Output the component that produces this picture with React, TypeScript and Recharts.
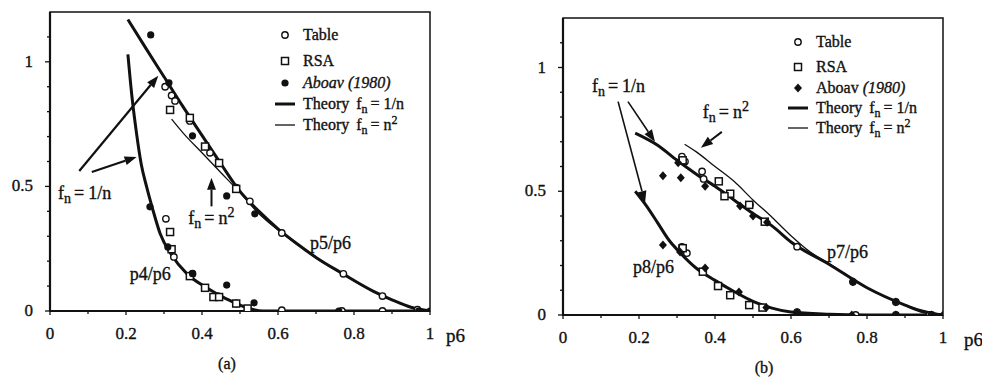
import React from 'react'
import {
  ComposedChart,
  Line,
  Scatter,
  XAxis,
  YAxis,
  ReferenceArea,
  ReferenceLine,
  ReferenceDot,
} from 'recharts'

type Pt = [number, number]

// ---- panel (a): p5/p6 and p4/p6 ----
const p5RecipA: Pt[] = [
  [0.205, 1.17], [0.25, 1.06], [0.3, 0.94], [0.35, 0.82], [0.4, 0.705], [0.45, 0.59],
  [0.5, 0.48], [0.55, 0.4], [0.6, 0.33], [0.65, 0.27], [0.7, 0.215], [0.77, 0.15],
  [0.85, 0.08], [0.9, 0.045], [0.95, 0.015], [1, 0],
]
const p5SquareA: Pt[] = [
  [0.32, 0.77], [0.35, 0.715], [0.4, 0.635], [0.45, 0.555], [0.5, 0.475], [0.55, 0.39],
  [0.6, 0.325], [0.65, 0.268], [0.7, 0.213], [0.77, 0.148], [0.85, 0.079], [0.9, 0.044],
  [0.95, 0.015], [1, 0],
]
const p4RecipA: Pt[] = [
  [0.205, 1.03], [0.215, 0.87], [0.228, 0.71], [0.24, 0.59], [0.254, 0.5], [0.27, 0.41],
  [0.29, 0.31], [0.32, 0.225], [0.36, 0.15], [0.41, 0.095], [0.465, 0.048], [0.52, 0.012],
  [0.56, 0], [1, 0],
]
const tableA: Pt[] = [
  [0.303, 0.9], [0.32, 0.865], [0.329, 0.843], [0.368, 0.763], [0.421, 0.635], [0.49, 0.495],
  [0.526, 0.44], [0.61, 0.313], [0.772, 0.149], [0.875, 0.06], [0.967, 0.005],
  [0.305, 0.37], [0.326, 0.217], [0.375, 0.15], [0.442, 0.06], [0.49, 0.03], [0.61, 0.003],
  [0.768, 0], [0.875, 0],
]
const rsaA: Pt[] = [
  [0.316, 0.807], [0.368, 0.775], [0.408, 0.66], [0.445, 0.594], [0.49, 0.49],
  [0.316, 0.317], [0.32, 0.248], [0.368, 0.14], [0.408, 0.093], [0.43, 0.056], [0.445, 0.056],
  [0.49, 0.03], [0.52, 0.01],
]
const aboavA: Pt[] = [
  [0.265, 1.108], [0.313, 0.916], [0.375, 0.703], [0.465, 0.462], [0.539, 0.39],
  [0.263, 0.418], [0.31, 0.257], [0.375, 0.15], [0.465, 0.104], [0.537, 0.033],
  [0.76, 0], [0.97, 0], [1, 0],
]

// ---- panel (b): p7/p6 and p8/p6 ----
const p7RecipB: Pt[] = [
  [0.19, 0.735], [0.25, 0.685], [0.3, 0.625], [0.35, 0.57], [0.4, 0.52], [0.45, 0.465],
  [0.5, 0.41], [0.55, 0.36], [0.6, 0.295], [0.7, 0.205], [0.8, 0.11], [0.9, 0.04],
  [0.95, 0.012], [1, 0],
]
const p7SquareB: Pt[] = [
  [0.32, 0.69], [0.35, 0.66], [0.4, 0.6], [0.45, 0.54], [0.5, 0.465], [0.55, 0.395],
  [0.6, 0.32], [0.65, 0.255], [0.7, 0.208], [0.8, 0.11], [0.9, 0.04], [1, 0],
]
const p8RecipB: Pt[] = [
  [0.19, 0.5], [0.22, 0.44], [0.25, 0.37], [0.28, 0.3], [0.3, 0.265], [0.35, 0.19],
  [0.4, 0.14], [0.45, 0.095], [0.5, 0.055], [0.55, 0.028], [0.6, 0.012], [0.7, 0.003],
  [0.8, 0], [1, 0],
]
const tableB: Pt[] = [
  [0.313, 0.64], [0.321, 0.62], [0.366, 0.58], [0.37, 0.55], [0.492, 0.445], [0.616, 0.276],
  [0.763, 0.134], [0.876, 0.053], [0.965, 0],
  [0.313, 0.275], [0.326, 0.25], [0.616, 0.012], [0.77, 0], [0.876, 0], [0.97, 0],
]
const rsaB: Pt[] = [
  [0.315, 0.625], [0.41, 0.54], [0.44, 0.49], [0.425, 0.48], [0.49, 0.445], [0.531, 0.377],
  [0.315, 0.27], [0.368, 0.175], [0.408, 0.117], [0.44, 0.08], [0.49, 0.04], [0.525, 0.03],
]
const aboavB: Pt[] = [
  [0.263, 0.563], [0.31, 0.555], [0.303, 0.615], [0.374, 0.52], [0.466, 0.44], [0.5, 0.4],
  [0.537, 0.375], [0.763, 0.134], [0.876, 0.053], [1, 0],
  [0.263, 0.283], [0.308, 0.255], [0.374, 0.19], [0.463, 0.093], [0.535, 0.03], [0.616, 0.01],
  [0.76, 0], [0.876, 0], [0.97, 0],
]

const xTicks = [0, 0.1, 0.2, 0.3, 0.4, 0.5, 0.6, 0.7, 0.8, 0.9, 1]
const xLabels = ['0', '0.2', '0.4', '0.6', '0.8', '1']
const yTicks = [0, 0.1, 0.2, 0.3, 0.4, 0.5, 0.6, 0.7, 0.8, 0.9, 1, 1.1]
const yLabels = ['0', '0.5', '1']

const FONT = '"Liberation Serif", "DejaVu Serif", serif'
const INK = '#111'
// scanned print looks a bit heavy, thicken glyphs slightly
const textStyle = { stroke: INK, strokeWidth: 0.35 }

const rows = (pts: Pt[]) => pts.map(([x, y]) => ({ x, y }))
const fmt = (v: number) => String(Math.round(v * 10) / 10)

const XTick = ({ x, y, payload }: any) => {
  const label = fmt(payload.value)
  const major = xLabels.includes(label)
  return (
    <g>
      <line x1={x} y1={y} x2={x} y2={y + (major ? 4 : 3)} stroke={INK} strokeWidth={1.3} />
      {major && (
        <text x={x} y={y + 28} textAnchor="middle" fontFamily={FONT} fontSize={17} fill={INK} style={textStyle}>
          {label}
        </text>
      )}
    </g>
  )
}

const YTick = ({ x, y, payload }: any) => {
  const label = fmt(payload.value)
  const major = yLabels.includes(label)
  return (
    <g>
      <line x1={x} y1={y} x2={x - (major ? 5 : 3)} y2={y} stroke={INK} strokeWidth={1.3} />
      {major && (
        <text x={x - 17} y={y + 5} textAnchor="end" fontFamily={FONT} fontSize={17} fill={INK} style={textStyle}>
          {label}
        </text>
      )}
    </g>
  )
}

const OpenCircle = ({ cx, cy }: any) => (
  <circle cx={cx} cy={cy} r={3.2} fill="#fff" stroke={INK} strokeWidth={1.4} />
)
const OpenSquare = ({ cx, cy }: any) => (
  <rect x={cx - 3.5} y={cy - 3.5} width={7} height={7} fill="#fff" stroke={INK} strokeWidth={1.5} />
)
const FilledDot = ({ cx, cy }: any) => <circle cx={cx} cy={cy} r={3.6} fill={INK} />
const FilledDiamond = ({ cx, cy }: any) => (
  <path d={`M${cx},${cy - 4.5}L${cx + 4},${cy}L${cx},${cy + 4.5}L${cx - 4},${cy}Z`} fill={INK} />
)

// f_n = 1/n  or  f_n = n^2
const FnLabel = ({ x, y, kind }: { x: number; y: number; kind: 'recip' | 'square' }) => (
  <text x={x} y={y} fontFamily={FONT} fontSize={18} fill={INK} style={textStyle}>
    f<tspan dy={4} fontSize={14}>n</tspan>
    <tspan dy={-4} dx={3}>=</tspan>
    <tspan dx={4}>{kind === 'recip' ? '1/n' : 'n'}</tspan>
    {kind === 'square' && (
      <tspan dy={-7} fontSize={14}>
        2
      </tspan>
    )}
  </text>
)

const Arrow = ({ x1, y1, x2, y2, w }: any) => {
  const a = Math.atan2(y2 - y1, x2 - x1)
  const L = 12
  const H = 4.5
  const bx = x2 - L * Math.cos(a)
  const by = y2 - L * Math.sin(a)
  const px = -Math.sin(a) * H
  const py = Math.cos(a) * H
  return (
    <g>
      <line x1={x1} y1={y1} x2={bx} y2={by} stroke={INK} strokeWidth={w} />
      <path d={`M${x2},${y2}L${bx + px},${by + py}L${bx - px},${by - py}Z`} fill={INK} />
    </g>
  )
}

interface Note {
  x: number
  y: number
  kind: 'recip' | 'square' | 'text'
  text?: string
}
interface ArrowSeg {
  from: Pt
  to: Pt
  w: number
}
interface LegendRow {
  marker: 'circle' | 'square' | 'dot' | 'diamond' | 'thick' | 'thin'
  label: React.ReactNode
}

const LegendBox = ({ left, top, rows: items, gaps }: { left: number; top: number; rows: LegendRow[]; gaps: number[] }) => {
  let cy = top
  return (
    <svg width={491} height={383} style={{ position: 'absolute', left: 0, top: 0, pointerEvents: 'none' }}>
      {items.map((r, i) => {
        if (i > 0) cy += gaps[i - 1]
        const mx = left
        let m: React.ReactNode = null
        if (r.marker === 'circle') m = <OpenCircle cx={mx} cy={cy} />
        if (r.marker === 'square') m = <OpenSquare cx={mx} cy={cy} />
        if (r.marker === 'dot') m = <FilledDot cx={mx} cy={cy} />
        if (r.marker === 'diamond') m = <FilledDiamond cx={mx} cy={cy} />
        if (r.marker === 'thick') m = <line x1={mx - 10} x2={mx + 10} y1={cy} y2={cy} stroke={INK} strokeWidth={3} />
        if (r.marker === 'thin') m = <line x1={mx - 10} x2={mx + 10} y1={cy} y2={cy} stroke={INK} strokeWidth={1.3} />
        return (
          <g key={i}>
            {m}
            <text x={mx + 18} y={cy + 5} fontFamily={FONT} fontSize={16} fill={INK} style={textStyle}>
              {r.label}
            </text>
          </g>
        )
      })}
    </svg>
  )
}

const theoryRecip = (
  <>
    Theory<tspan dx={7}>f</tspan>
    <tspan dy={4} fontSize={12}>n</tspan>
    <tspan dy={-4} dx={3}>= 1/n</tspan>
  </>
)
const theorySquare = (
  <>
    Theory<tspan dx={7}>f</tspan>
    <tspan dy={4} fontSize={12}>n</tspan>
    <tspan dy={-4} dx={3}>= n</tspan>
    <tspan dy={-6} fontSize={12}>2</tspan>
  </>
)

interface PanelProps {
  left: number
  margin: { top: number; right: number; bottom: number; left: number }
  recip: Pt[][]
  square: Pt[]
  table: Pt[]
  rsa: Pt[]
  aboav: Pt[]
  diamond: boolean
  notes: Note[]
  arrows: ArrowSeg[]
  caption: string
  captionDx: number
  p6Dx: number
  legend: { left: number; top: number; gaps: number[]; rows: LegendRow[] }
}

const Panel = (p: PanelProps) => (
  <div style={{ position: 'absolute', left: p.left, top: 0, width: 491, height: 383 }}>
    <ComposedChart width={491} height={383} margin={p.margin}>
      <XAxis
        type="number"
        dataKey="x"
        domain={[0, 1]}
        ticks={xTicks}
        tick={<XTick />}
        tickLine={false}
        tickSize={0}
        tickMargin={0}
        height={30}
        axisLine={{ stroke: INK, strokeWidth: 2.2 }}
        allowDataOverflow
        label={({ viewBox }: any) => (
          <g>
            <text
              x={viewBox.x + viewBox.width + p.p6Dx}
              y={viewBox.y + 31}
              fontFamily={FONT}
              fontSize={19}
              fill={INK}
              style={textStyle}
            >
              p6
            </text>
            <text
              x={viewBox.x + viewBox.width / 2 + p.captionDx}
              y={viewBox.y + 58}
              textAnchor="middle"
              fontFamily={FONT}
              fontSize={16}
              fill={INK}
              style={textStyle}
            >
              {p.caption}
            </text>
          </g>
        )}
      />
      <YAxis
        type="number"
        dataKey="y"
        domain={[0, 1.2]}
        ticks={yTicks}
        tick={<YTick />}
        tickLine={false}
        tickSize={0}
        tickMargin={0}
        width={40}
        axisLine={{ stroke: INK, strokeWidth: 2.2 }}
        allowDataOverflow
      />
      <ReferenceArea x1={0} x2={1} y1={0} y2={1.2} fill="none" fillOpacity={0} stroke={INK} strokeWidth={1.5} />
      <Line
        data={rows(p.square)}
        dataKey="y"
        type="monotone"
        stroke={INK}
        strokeWidth={1.3}
        dot={false}
        isAnimationActive={false}
      />
      {p.recip.map((c, i) => (
        <Line
          key={i}
          data={rows(c)}
          dataKey="y"
          type="monotone"
          stroke={INK}
          strokeWidth={3}
          dot={false}
          isAnimationActive={false}
        />
      ))}
      <Scatter data={rows(p.table)} shape={<OpenCircle />} isAnimationActive={false} />
      <Scatter data={rows(p.rsa)} shape={<OpenSquare />} isAnimationActive={false} />
      <Scatter data={rows(p.aboav)} shape={p.diamond ? <FilledDiamond /> : <FilledDot />} isAnimationActive={false} />
      {p.arrows.map((a, i) => (
        <ReferenceLine
          key={'a' + i}
          segment={[
            { x: a.from[0], y: a.from[1] },
            { x: a.to[0], y: a.to[1] },
          ]}
          shape={(s: any) => <Arrow x1={s.x1} y1={s.y1} x2={s.x2} y2={s.y2} w={a.w} />}
        />
      ))}
      {p.notes.map((n, i) => (
        <ReferenceDot
          key={'n' + i}
          x={n.x}
          y={n.y}
          r={0}
          shape={(s: any) =>
            n.kind === 'text' ? (
              <text x={s.cx} y={s.cy} fontFamily={FONT} fontSize={18} fill={INK} style={textStyle}>
                {n.text}
              </text>
            ) : (
              <FnLabel x={s.cx} y={s.cy} kind={n.kind} />
            )
          }
        />
      ))}
    </ComposedChart>
    <LegendBox left={p.legend.left} top={p.legend.top} gaps={p.legend.gaps} rows={p.legend.rows} />
  </div>
)

export default function App() {
  return (
    <div style={{ position: 'absolute', left: 0, top: 0, width: 982, height: 383, background: '#fff' }}>
      <Panel
        left={0}
        margin={{ top: 12, right: 61, bottom: 42, left: 10 }}
        recip={[p5RecipA, p4RecipA]}
        square={p5SquareA}
        table={tableA}
        rsa={rsaA}
        aboav={aboavA}
        diamond={false}
        notes={[
          { x: 0.021, y: 0.45, kind: 'recip' },
          { x: 0.364, y: 0.35, kind: 'square' },
          { x: 0.684, y: 0.25, kind: 'text', text: 'p5/p6' },
          { x: 0.21, y: 0.124, kind: 'text', text: 'p4/p6' },
        ]}
        arrows={[
          { from: [0.077, 0.562], to: [0.285, 0.944], w: 2.2 },
          { from: [0.11, 0.558], to: [0.228, 0.618], w: 2.2 },
          { from: [0.425, 0.42], to: [0.425, 0.535], w: 2 },
        ]}
        caption="(a)"
        captionDx={-13}
        p6Dx={16}
        legend={{
          left: 285,
          top: 35,
          gaps: [26, 22, 21, 21],
          rows: [
            { marker: 'circle', label: 'Table' },
            { marker: 'square', label: 'RSA' },
            { marker: 'dot', label: <tspan fontStyle="italic">Aboav (1980)</tspan> },
            { marker: 'thick', label: theoryRecip },
            { marker: 'thin', label: theorySquare },
          ],
        }}
      />
      <Panel
        left={491}
        margin={{ top: 18, right: 39, bottom: 38, left: 32 }}
        recip={[p7RecipB, p8RecipB]}
        square={p7SquareB}
        table={tableB}
        rsa={rsaB}
        aboav={aboavB}
        diamond={true}
        notes={[
          { x: 0.076, y: 0.899, kind: 'recip' },
          { x: 0.368, y: 0.797, kind: 'square' },
          { x: 0.695, y: 0.23, kind: 'text', text: 'p7/p6' },
          { x: 0.184, y: 0.17, kind: 'text', text: 'p8/p6' },
        ]}
        arrows={[
          { from: [0.145, 0.862], to: [0.216, 0.453], w: 1.6 },
          { from: [0.171, 0.862], to: [0.242, 0.7], w: 1.6 },
          { from: [0.418, 0.74], to: [0.363, 0.676], w: 2 },
        ]}
        caption="(b)"
        captionDx={11}
        p6Dx={21}
        legend={{
          left: 307,
          top: 42,
          gaps: [25, 21, 20, 20],
          rows: [
            { marker: 'circle', label: 'Table' },
            { marker: 'square', label: 'RSA' },
            {
              marker: 'diamond',
              label: (
                <>
                  Aboav <tspan fontStyle="italic">(1980)</tspan>
                </>
              ),
            },
            { marker: 'thick', label: theoryRecip },
            { marker: 'thin', label: theorySquare },
          ],
        }}
      />
    </div>
  )
}
